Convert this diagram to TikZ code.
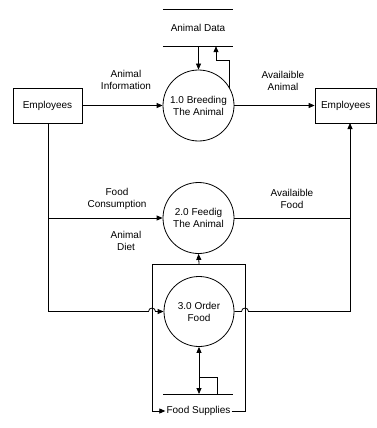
\documentclass[tikz,border=0pt]{standalone}
\usepackage{fontspec}
\setmainfont{Liberation Sans}
\usetikzlibrary{arrows.meta,calc}
\begin{document}
\begin{tikzpicture}[x=1pt,y=-1pt,
  every node/.style={font=\fontsize{10}{12}\selectfont},
  line/.style={draw=black,line width=0.8pt},
  flow/.style={line,-{Triangle[length=6pt,width=5pt]}},
  twoway/.style={line,{Triangle[length=6pt,width=5pt]}-{Triangle[length=6pt,width=5pt]}},
  process/.style={circle,line,minimum size=71pt,inner sep=0pt,align=center},
  entity/.style={rectangle,line,minimum height=35pt,inner sep=0pt},
  storebox/.style={rectangle,minimum width=70pt,minimum height=36pt,inner sep=0pt},
  flowlabel/.style={align=center,inner sep=0pt}]
\useasboundingbox (0,0) rectangle (377,428);

% external entities
\node[entity,minimum width=69pt] (emp1) at (47.5,105.5) {Employees};
\node[entity,minimum width=61.5pt] (emp2) at (345.75,105.5) {Employees};

% processes
\node[process] (c1) at (198.5,105.5) {1.0 Breeding\\The Animal};
\node[process] (c2) at (198.5,218) {2.0 Feedig\\The Animal};
\node[process,minimum size=70pt] (c3) at (199,311.5) {3.0 Order\\Food};

% data stores
\node[storebox] (ds1) at (198,28) {Animal Data};
\draw[line] (ds1.north west) -- (ds1.north east);
\draw[line] (ds1.south west) -- (ds1.south east);
\coordinate (ds2w) at (163,394);
\coordinate (ds2e) at (233,394);
\draw[line] (ds2w) -- (ds2e);
\node[inner sep=1pt] (fs) at (198.5,411) {Food Supplies};

% helper points
\coordinate (k1) at (216,60);
\coordinate (lft) at (48,311.5);
\coordinate (rgt) at (350,311.5);
\coordinate (e2in) at (350,123);
\coordinate (boxtl) at (152,264);
\coordinate (boxtr) at (245,264);
\coordinate (boxbl) at (152,411);
\coordinate (boxbr) at (245,411);
\coordinate (s2mark) at (217,377);

% flows around process 1.0
\draw[flow] (emp1.east) -- (c1.west);
\draw[flow] (c1.east) -- (emp2.west);
\draw[flow] (c1.north |- ds1.south) -- (c1.north);
\draw[flow] (c1.30) |- (k1) -- (k1 |- ds1.south);

% flows around process 2.0
\draw[line] (emp1.south -| lft) -- (lft);
\draw[flow] (lft |- c2.west) -- (c2.west);
\draw[line] (c2.east) -- (c2.east -| rgt) -- (rgt);
\draw[flow] (rgt) -- (e2in);

% flows around process 3.0 (with line hops)
\draw[flow] (lft) -- ($(boxtl |- lft)+(-3.5,0)$)
  .. controls +(0,-4.5) and +(0,-4.5) .. ($(boxtl |- lft)+(3.5,0)$) -- (c3.west);
\draw[line] (c3.east) -- ($(boxtr |- rgt)+(-3.5,0)$)
  .. controls +(0,-4.5) and +(0,-4.5) .. ($(boxtr |- rgt)+(3.5,0)$) -- (rgt);

% food supplies loop
\draw[line] (fs.east) -- (boxbr) -- (boxtr) -- (boxtl) -- (boxbl);
\draw[flow] (boxbl) -- (fs.west);
\draw[flow] (c3.north |- boxtl) -- (c2.south);
\draw[twoway] (c3.south) -- (c3.south |- ds2w);
\draw[line] (c3.south |- s2mark) -- (s2mark) -- (s2mark |- ds2w);

% flow labels
\node[flowlabel] (l1) at (126,80) {Animal\\Information};
\node[flowlabel] (l2) at (283,81) {Availaible\\Animal};
\node[flowlabel] (l3) at (117,199) {Food\\Consumption};
\node[flowlabel] (l4) at (292,199) {Availaible\\Food};
\node[flowlabel] (l5) at (126,240.5) {Animal\\Diet};
\end{tikzpicture}
\end{document}
